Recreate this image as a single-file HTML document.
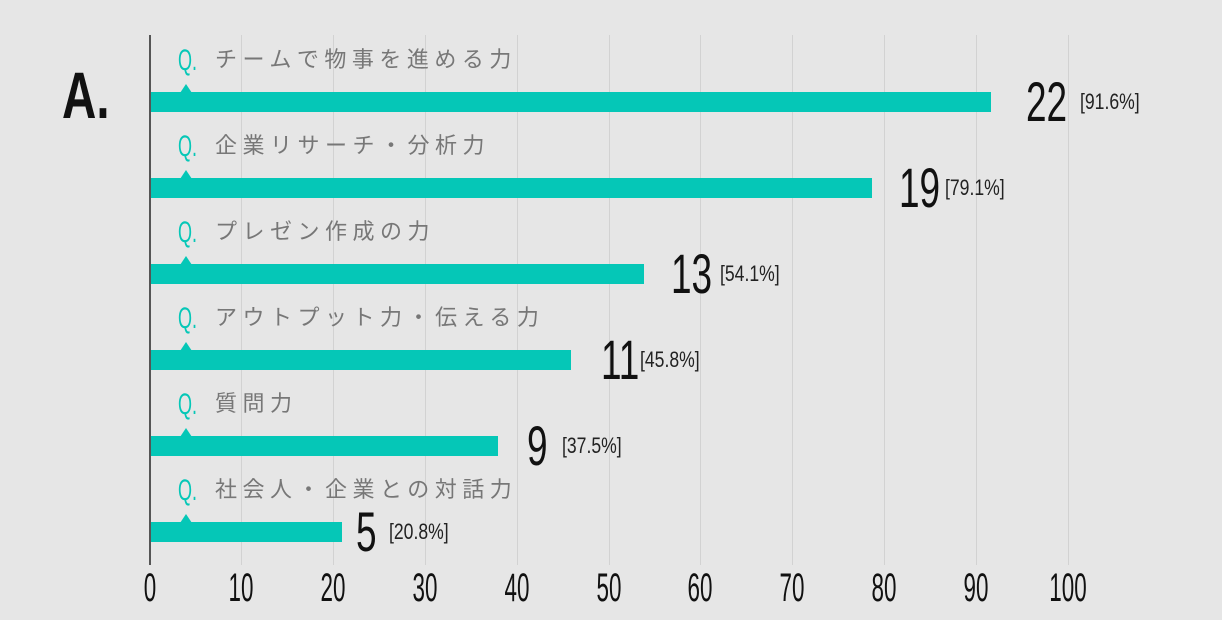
<!DOCTYPE html>
<html><head><meta charset="utf-8"><style>
body{margin:0;background:#e6e6e6;}
#c{position:relative;width:1222px;height:620px;overflow:hidden;background:#e6e6e6;font-family:"Liberation Sans","Noto Sans CJK JP",sans-serif;}
.g{position:absolute;top:35px;height:530px;width:1px;background:#d2d2d2;}
.bar{position:absolute;left:151px;height:20px;background:#05c7b7;}
.tri{position:absolute;left:180px;width:0;height:0;border-left:6px solid transparent;border-right:6px solid transparent;border-bottom:9px solid #05c7b7;}
.q{position:absolute;left:178px;font-size:30px;color:#05c7b7;transform:scaleX(0.6);transform-origin:left;line-height:30px;}
.lab{position:absolute;left:215px;font-size:22px;letter-spacing:5.5px;color:#777;line-height:26px;}
.n{position:absolute;font-size:56px;line-height:56px;color:#111;transform:scaleX(0.66);transform-origin:left;}
.p{position:absolute;font-size:22px;line-height:24px;color:#222;transform:scaleX(0.8);transform-origin:left;}
.t{position:absolute;top:568px;font-size:40px;line-height:40px;color:#111;width:100px;text-align:center;transform:scaleX(0.56);}
</style></head><body><div id="c">
<div class="g" style="left:241px"></div><div class="g" style="left:333px"></div><div class="g" style="left:425px"></div><div class="g" style="left:517px"></div><div class="g" style="left:609px"></div><div class="g" style="left:700px"></div><div class="g" style="left:792px"></div><div class="g" style="left:884px"></div><div class="g" style="left:976px"></div><div class="g" style="left:1068px"></div>
<div style="position:absolute;left:149px;top:35px;width:2px;height:530px;background:#555"></div>
<div style="position:absolute;left:62px;top:62px;font-size:66px;font-weight:bold;color:#111;line-height:66px;transform:scaleX(0.72);transform-origin:left">A.</div>

<div class="q" style="top:46px">Q.</div><div class="lab" style="top:47px">チームで物事を進める力</div><div class="tri" style="top:84px"></div><div class="bar" style="top:92px;width:840px"></div><div class="n" style="left:1026px;top:74px">22</div><div class="p" style="left:1080px;top:90px">[91.6%]</div>
<div class="q" style="top:132px">Q.</div><div class="lab" style="top:133px">企業リサーチ・分析力</div><div class="tri" style="top:170px"></div><div class="bar" style="top:178px;width:721px"></div><div class="n" style="left:899px;top:160px">19</div><div class="p" style="left:945px;top:176px">[79.1%]</div>
<div class="q" style="top:218px">Q.</div><div class="lab" style="top:219px">プレゼン作成の力</div><div class="tri" style="top:256px"></div><div class="bar" style="top:264px;width:493px"></div><div class="n" style="left:671px;top:246px">13</div><div class="p" style="left:720px;top:262px">[54.1%]</div>
<div class="q" style="top:304px">Q.</div><div class="lab" style="top:305px">アウトプット力・伝える力</div><div class="tri" style="top:342px"></div><div class="bar" style="top:350px;width:420px"></div><div class="n" style="left:601px;top:332px">11</div><div class="p" style="left:640px;top:348px">[45.8%]</div>
<div class="q" style="top:390px">Q.</div><div class="lab" style="top:391px">質問力</div><div class="tri" style="top:428px"></div><div class="bar" style="top:436px;width:347px"></div><div class="n" style="left:527px;top:418px">9</div><div class="p" style="left:562px;top:434px">[37.5%]</div>
<div class="q" style="top:476px">Q.</div><div class="lab" style="top:477px">社会人・企業との対話力</div><div class="tri" style="top:514px"></div><div class="bar" style="top:522px;width:191px"></div><div class="n" style="left:356px;top:504px">5</div><div class="p" style="left:389px;top:520px">[20.8%]</div>

<div class="t" style="left:100px">0</div><div class="t" style="left:191px">10</div><div class="t" style="left:283px">20</div><div class="t" style="left:375px">30</div><div class="t" style="left:467px">40</div><div class="t" style="left:559px">50</div><div class="t" style="left:650px">60</div><div class="t" style="left:742px">70</div><div class="t" style="left:834px">80</div><div class="t" style="left:926px">90</div><div class="t" style="left:1018px">100</div>
</div></body></html>
